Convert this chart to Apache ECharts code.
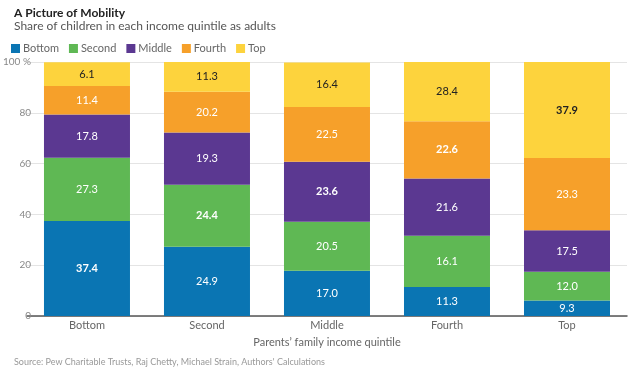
<!DOCTYPE html>
<html>
<head>
<meta charset="utf-8">
<script src="https://cdn.jsdelivr.net/npm/echarts@6/dist/echarts.min.js"></script>
<style>
  html, body { margin: 0; padding: 0; background: #fff; }
  #chart { width: 629px; height: 376px; }
</style>
</head>
<body>
<div id="chart"></div>
<script>
const categories = ['Bottom', 'Second', 'Middle', 'Fourth', 'Top']
const bottom = [37.4, 24.9, 17.0, 11.3, 9.3]
const second = [27.3, 24.4, 20.5, 16.1, 12.0]
const middle = [17.8, 19.3, 23.6, 21.6, 17.5]
const fourth = [11.4, 20.2, 22.5, 22.6, 23.3]
const top_ = [6.1, 11.3, 16.4, 28.4, 37.9]
const yTicks = [0, 20, 40, 60, 80, 100]

const rows = [bottom, second, middle, fourth, top_]
const chart = echarts.init(document.getElementById('chart'))
const font = 'Lato, "Open Sans", sans-serif'

// the original graphic sizes its segments from the transposed table
// (rows[c][s]) while printing rows[s][c]; keep that so it looks the same
const makeSeries = (name, s, color, labelColor) => ({
  name,
  type: 'bar',
  stack: 'all',
  barWidth: 86,
  itemStyle: { color },
  label: {
    show: true,
    position: 'inside',
    color: labelColor,
    fontFamily: font,
    fontSize: 11,
    formatter: p => rows[s][p.dataIndex].toFixed(1)
  },
  data: categories.map((c, i) => i === s
    ? { value: rows[i][s], label: { fontWeight: 'bold' } }
    : rows[i][s])
})

chart.setOption({
  animation: false,
  textStyle: { fontFamily: font },
  title: [
    {
      text: 'A Picture of Mobility',
      subtext: 'Share of children in each income quintile as adults',
      left: 9, top: 2,
      itemGap: 1,
      textStyle: { fontSize: 12, fontWeight: 'bold', color: '#222', fontFamily: font },
      subtextStyle: { fontSize: 12, color: '#555', fontFamily: font }
    },
    {
      text: 'Source: Pew Charitable Trusts, Raj Chetty, Michael Strain, Authors\' Calculations',
      left: 9, top: 353,
      textStyle: { fontSize: 9, fontWeight: 'normal', color: '#999', fontFamily: font }
    }
  ],
  legend: {
    left: 6, top: 38,
    itemWidth: 9, itemHeight: 9,
    itemGap: 10,
    icon: 'rect',
    textStyle: { fontSize: 11, color: '#666', fontFamily: font, padding: [0, 0, 0, -2] },
    data: ['Bottom', 'Second', 'Middle', 'Fourth', 'Top']
  },
  grid: { left: 25, right: 2, top: 62, bottom: 60 },
  xAxis: {
    type: 'category',
    data: categories,
    name: 'Parents\u2019 family income quintile',
    nameLocation: 'middle',
    nameGap: 21,
    nameTextStyle: { fontSize: 11, color: '#666', fontFamily: font },
    axisLine: { lineStyle: { color: '#555', width: 1.5 } },
    axisTick: { show: false },
    axisLabel: { fontSize: 11, color: '#666', margin: 4 }
  },
  yAxis: {
    type: 'value',
    min: 0, max: 100, interval: 20,
    axisLine: { show: false },
    axisTick: { show: false },
    axisLabel: {
      fontSize: 10, color: '#888', margin: -4,
      formatter: v => yTicks.includes(v) ? (v === 100 ? '100 %' : String(v)) : ''
    },
    splitLine: { lineStyle: { color: '#e4e4e4' } }
  },
  series: [
    makeSeries('Bottom', 0, '#0a75b3', '#fff'),
    makeSeries('Second', 1, '#5fb854', '#fff'),
    makeSeries('Middle', 2, '#5b3891', '#fff'),
    makeSeries('Fourth', 3, '#f6a02a', '#fff'),
    makeSeries('Top', 4, '#fdd33d', '#222')
  ]
})
</script>
</body>
</html>
